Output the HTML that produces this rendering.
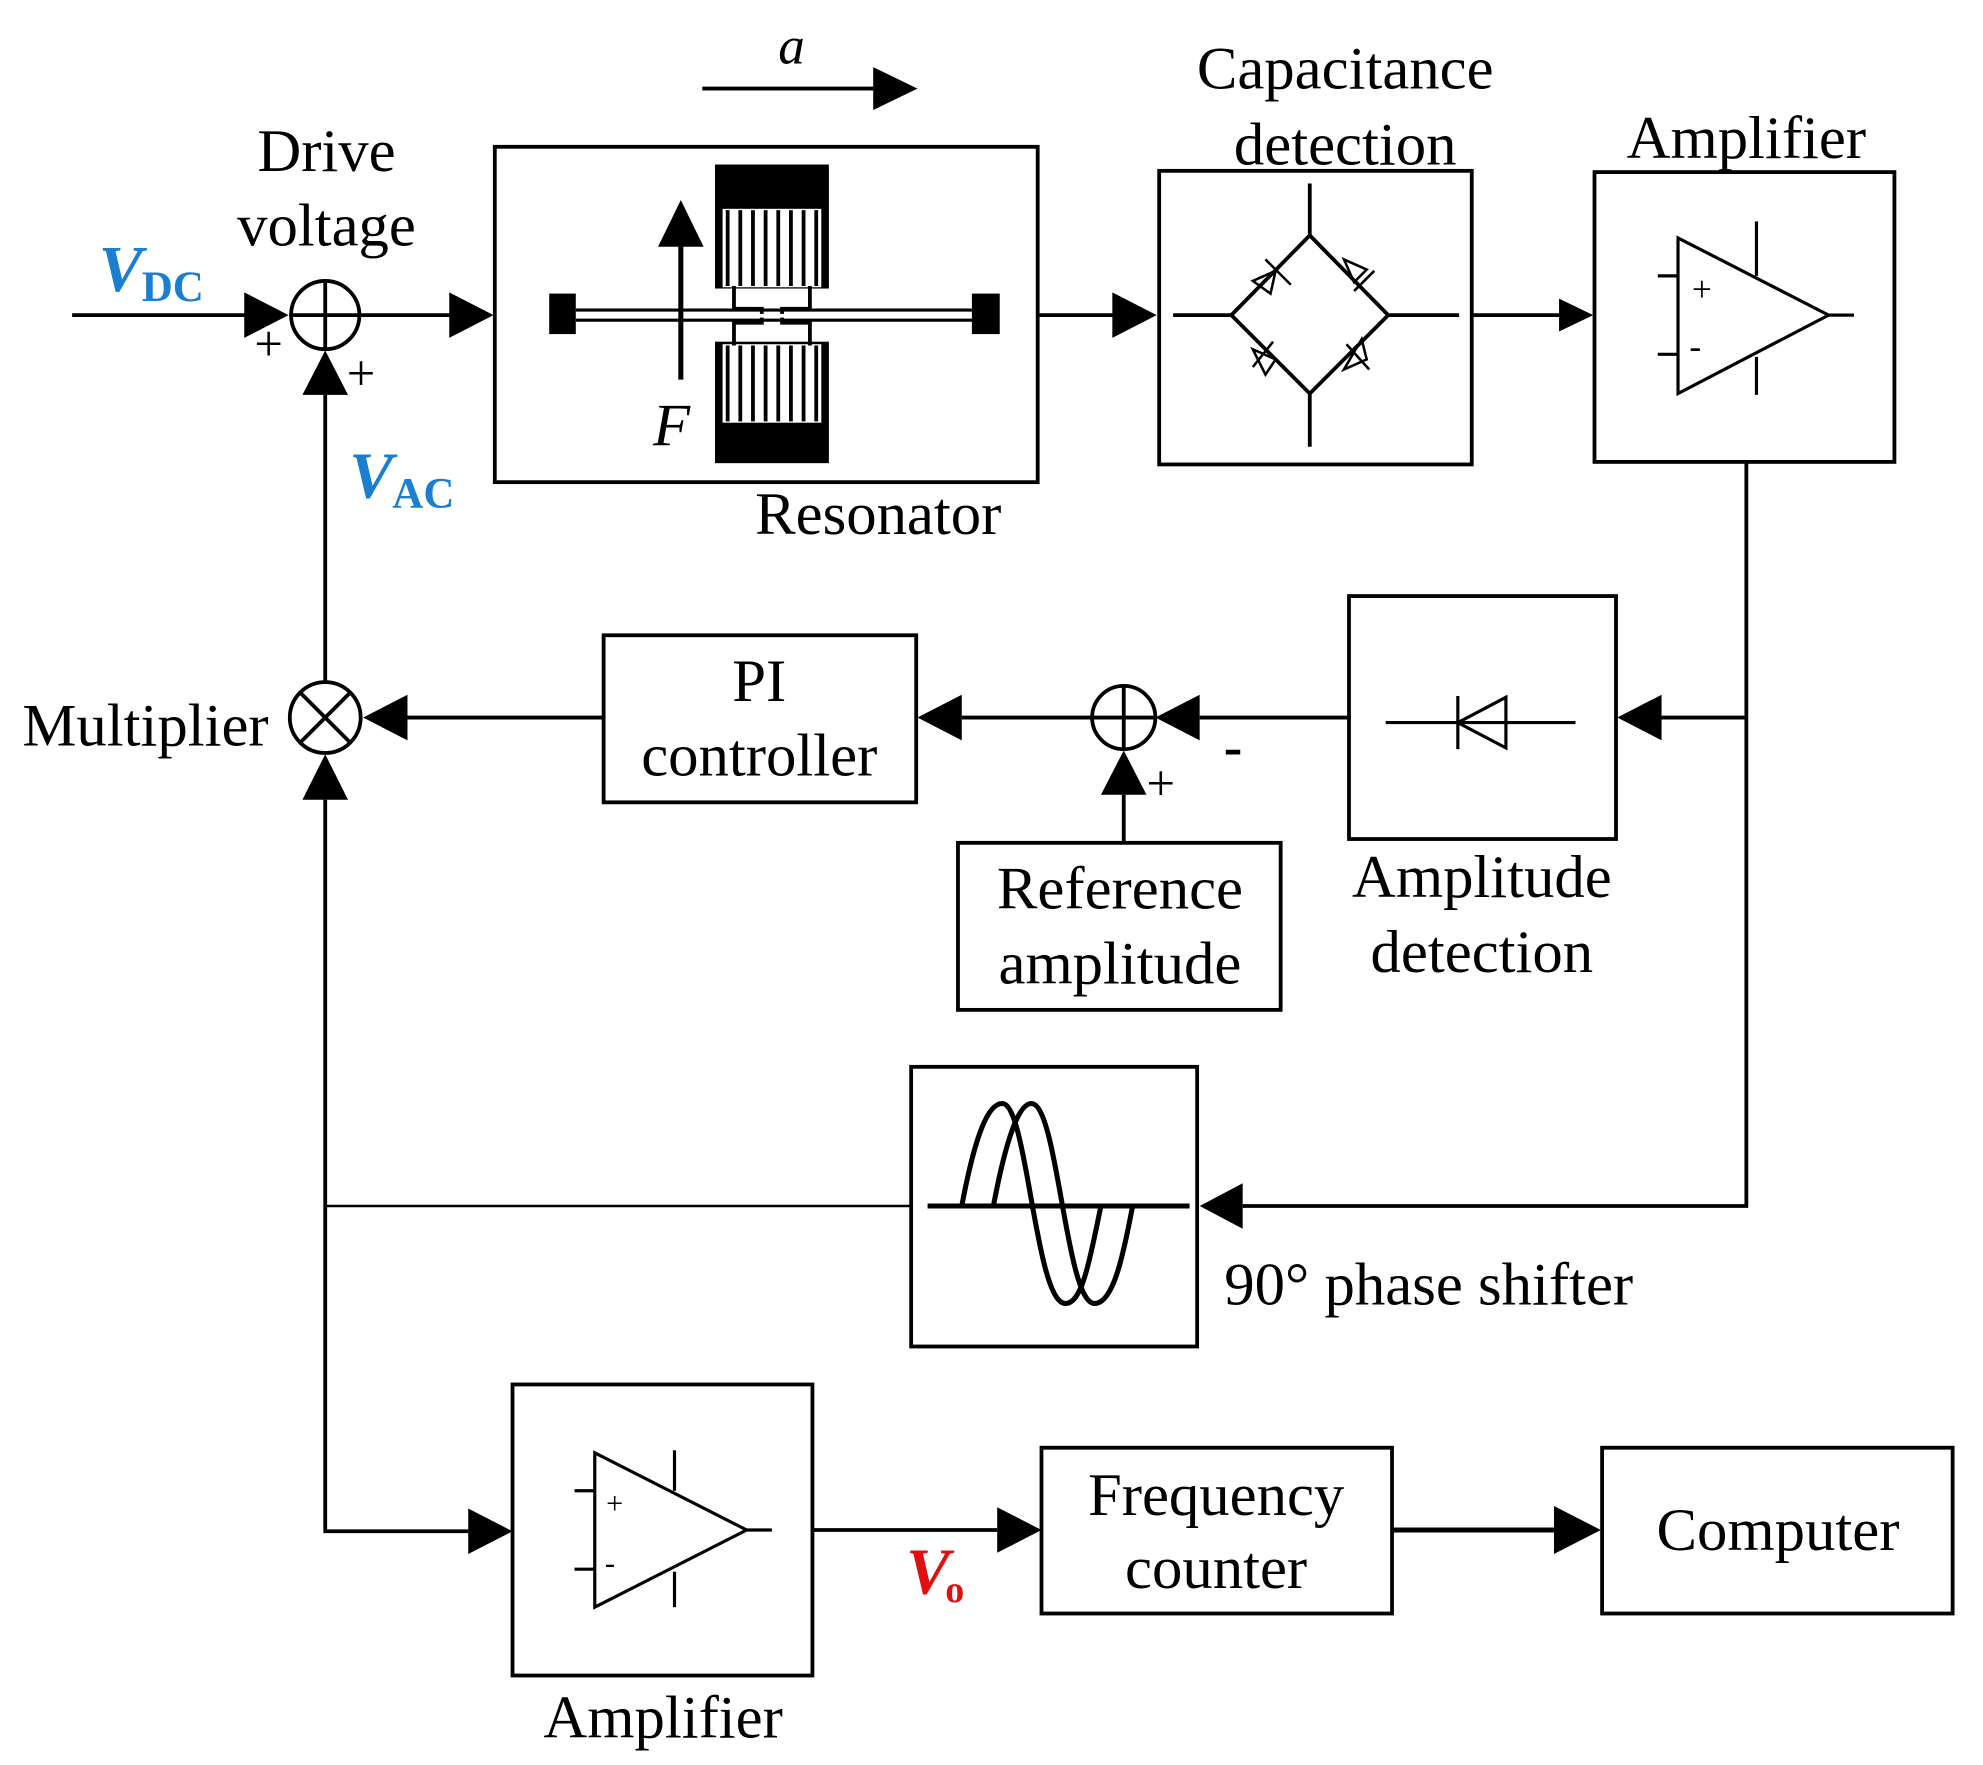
<!DOCTYPE html>
<html><head><style>
html,body{margin:0;padding:0;background:#fff;}
svg{display:block;}
text{font-family:"Liberation Serif",serif;fill:#000;}
</style></head><body>
<svg width="1983" height="1765" viewBox="0 0 1567 1394.7" preserveAspectRatio="none" xmlns="http://www.w3.org/2000/svg">
<g stroke="#000" stroke-width="3" fill="none">
<rect x="391" y="116" width="429" height="265"/>
<rect x="916" y="135" width="247" height="232"/>
<rect x="1260" y="136" width="237" height="229"/>
<rect x="1066" y="471" width="211" height="192"/>
<rect x="477" y="502" width="247" height="132"/>
<rect x="757" y="666" width="255" height="132"/>
<rect x="720" y="843" width="226" height="221"/>
<rect x="405" y="1094" width="237" height="230"/>
<rect x="823" y="1144" width="277" height="131"/>
<rect x="1266" y="1144" width="277" height="131"/>
<circle cx="257" cy="249" r="27"/>
<line x1="230" y1="249" x2="284" y2="249"/><line x1="257" y1="222" x2="257" y2="276"/>
<circle cx="257" cy="567" r="28"/>
<line x1="237" y1="547" x2="277" y2="587"/><line x1="277" y1="547" x2="237" y2="587"/>
<circle cx="888" cy="567" r="25"/>
<line x1="863" y1="567" x2="913" y2="567"/><line x1="888" y1="542" x2="888" y2="592"/>
<line x1="57" y1="249" x2="196" y2="249"/>
<line x1="284" y1="249" x2="356" y2="249"/>
<line x1="820" y1="249" x2="880" y2="249"/>
<line x1="1163" y1="249" x2="1232" y2="249"/>
<polyline points="1380,365 1380,953 982,953"/>
<line x1="1380" y1="567" x2="1313" y2="567"/>
<line x1="1066" y1="567" x2="948" y2="567"/>
<line x1="888" y1="666" x2="888" y2="628"/>
<line x1="863" y1="567" x2="760" y2="567"/>
<line x1="477" y1="567" x2="322" y2="567"/>
<line x1="257" y1="539" x2="257" y2="312"/>
<polyline points="257,632 257,1210 370,1210"/>
<line x1="257" y1="953" x2="720" y2="953" stroke-width="2"/>
<line x1="642" y1="1209" x2="788" y2="1209"/>
<line x1="1100" y1="1209" x2="1228" y2="1209" stroke-width="4"/>
<line x1="555" y1="70" x2="690" y2="70"/>
</g>
<g fill="#000">
<path d="M193,231 L228,249 L193,267z"/>
<path d="M355,231 L390,249 L355,267z"/>
<path d="M879,231 L914,249 L879,267z"/>
<path d="M1232,236 L1259,249 L1232,262z"/>
<path d="M982,935 L948,953 L982,971z"/>
<path d="M1313,549 L1278,567 L1313,585z"/>
<path d="M948,549 L913,567 L948,585z"/>
<path d="M870,628 L888,593 L906,628z"/>
<path d="M760,549 L725,567 L760,585z"/>
<path d="M322,549 L287,567 L322,585z"/>
<path d="M239,312 L257,277 L275,312z"/>
<path d="M239,632 L257,596 L275,632z"/>
<path d="M370,1192 L405,1210 L370,1228z"/>
<path d="M788,1191 L823,1209 L788,1227z"/>
<path d="M1228,1190 L1265,1209 L1228,1228z"/>
<path d="M690,53 L725,70 L690,87z"/>
</g>
<g>
<rect x="434" y="232" width="21" height="32" fill="#000"/>
<rect x="768" y="232" width="22" height="32" fill="#000"/>
<line x1="455" y1="245" x2="768" y2="245" stroke="#000" stroke-width="2.5"/>
<line x1="455" y1="253" x2="768" y2="253" stroke="#000" stroke-width="2.5"/>
<rect x="565" y="130" width="90" height="98" fill="#000"/>
<rect x="565" y="270" width="90" height="96" fill="#000"/>
<g fill="#fff">
<rect x="571" y="165" width="78" height="62"/>
<rect x="571" y="272" width="78" height="62"/>
</g>
<g fill="none" stroke="#000" stroke-width="3">
<path d="M575,166 v60 M585,166 v60 M595,166 v60 M605,166 v60 M615,166 v60 M625,166 v60 M635,166 v60 M645,166 v60"/>
<path d="M575,273 v60 M585,273 v60 M595,273 v60 M605,273 v60 M615,273 v60 M625,273 v60 M635,273 v60 M645,273 v60"/>
<path d="M580,226 v18 h22 v4 M640,226 v18 h-22 v4"/>
<path d="M580,273 v-18 h22 v-4 M640,273 v-18 h-22 v-4"/>
</g>
<line x1="538" y1="300" x2="538" y2="190" stroke="#000" stroke-width="4"/>
<path d="M520,195 L538,158 L556,195z" fill="#000"/>
</g>
<g stroke="#000" stroke-width="3" fill="none">
<path d="M1035,186 L1097,249 L1035,311 L973,249z"/>
<line x1="1035" y1="145" x2="1035" y2="186"/><line x1="1035" y1="311" x2="1035" y2="353"/>
<line x1="927" y1="249" x2="973" y2="249"/><line x1="1097" y1="249" x2="1153" y2="249"/>
<path d="M990,222 l18,-8 l-4,18z M1000,205 l20,20" stroke-width="2"/>
<path d="M1062,205 l18,8 l-10,10z M1070,230 l16,-16" stroke-width="2"/>
<path d="M990,276 l18,8 l-8,12z M990,290 l16,-20" stroke-width="2"/>
<path d="M1062,292 l18,-8 l-4,-16z M1064,272 l18,20" stroke-width="2"/>
</g>
<g stroke="#000" stroke-width="2.5" fill="none">
<path d="M1326,188 L1326,311 L1445,249z"/>
<line x1="1445" y1="249" x2="1465" y2="249"/>
<line x1="1310" y1="218" x2="1326" y2="218"/><line x1="1310" y1="280" x2="1326" y2="280"/>
<line x1="1388" y1="175" x2="1388" y2="218"/><line x1="1388" y1="282" x2="1388" y2="312"/>
<path d="M470,1148 L470,1270 L590,1209z"/>
<line x1="590" y1="1209" x2="610" y2="1209"/>
<line x1="454" y1="1178" x2="470" y2="1178"/><line x1="454" y1="1240" x2="470" y2="1240"/>
<line x1="533" y1="1146" x2="533" y2="1178"/><line x1="533" y1="1242" x2="533" y2="1270"/>
<line x1="1095" y1="571" x2="1245" y2="571"/>
<path d="M1190,551 L1190,591 L1152,571z"/>
<line x1="1152" y1="550" x2="1152" y2="592"/>
<line x1="733" y1="953" x2="940" y2="953" stroke-width="4"/>
<path d="M760,953 C770,900 780,872 792,872 C812,872 818,1030 842,1030 C856,1030 862,990 870,953" stroke-width="4"/>
<path d="M785,953 C795,900 805,872 815,872 C836,872 842,1030 865,1030 C880,1030 888,990 895,953" stroke-width="4"/>
</g>
<text x="1337" y="238" font-size="28">+</text>
<text x="1335" y="283" font-size="28">-</text>
<text x="479" y="1196" font-size="24" fill="#666">+</text>
<text x="478" y="1243" font-size="24">-</text>
<g font-size="48" text-anchor="middle">
<text x="258" y="135">Drive</text>
<text x="258" y="194">voltage</text>
<text x="1063" y="70">Capacitance</text>
<text x="1063" y="130">detection</text>
<text x="1380" y="125">Amplifier</text>
<text x="694" y="422">Resonator</text>
<text x="600" y="554">PI</text>
<text x="600" y="613">controller</text>
<text x="885" y="718">Reference</text>
<text x="885" y="777">amplitude</text>
<text x="1171" y="709">Amplitude</text>
<text x="1171" y="768">detection</text>
<text x="1129" y="1031">90° phase shifter</text>
<text x="961" y="1197">Frequency</text>
<text x="961" y="1255">counter</text>
<text x="1405" y="1225">Computer</text>
<text x="524" y="1373">Amplifier</text>
<text x="115" y="589">Multiplier</text>
</g>
<text x="615" y="50" font-size="42" font-style="italic">a</text>
<text x="516" y="352" font-size="48" font-style="italic">F</text>
<text x="201" y="285" font-size="40">+</text>
<text x="274" y="308" font-size="40">+</text>
<text x="906" y="632" font-size="40">+</text>
<text x="967" y="605" font-size="44" font-weight="bold">-</text>
<text x="78" y="230" font-size="52" font-style="italic" font-weight="bold" style="fill:#1a7fd0">V</text>
<text x="112" y="238" font-size="34" font-weight="bold" style="fill:#1a7fd0">DC</text>
<text x="276" y="393" font-size="52" font-style="italic" font-weight="bold" style="fill:#1a7fd0">V</text>
<text x="310" y="401" font-size="34" font-weight="bold" style="fill:#1a7fd0">AC</text>
<text x="716" y="1259" font-size="52" font-style="italic" font-weight="bold" style="fill:#e01010">V</text>
<text x="747" y="1266" font-size="30" font-weight="bold" style="fill:#e01010">o</text>
</svg>
</body></html>
